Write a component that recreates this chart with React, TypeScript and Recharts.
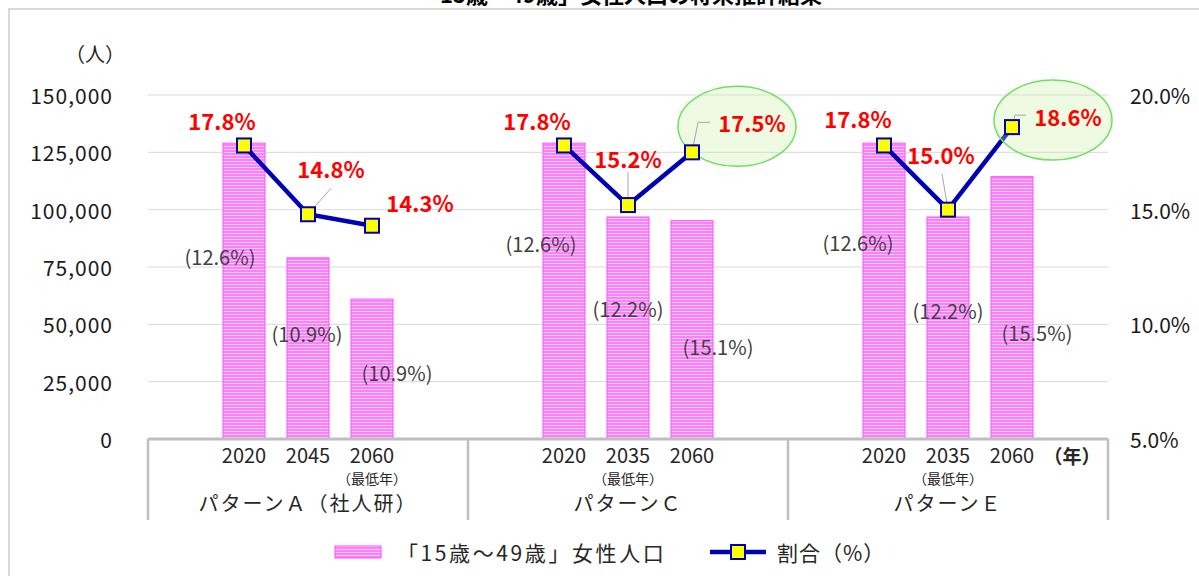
import React from 'react';
import { ComposedChart, Bar, Line, XAxis, YAxis, CartesianGrid, Legend } from 'recharts';

const GROUPS = ['パターンＡ（社人研）', 'パターンＣ', 'パターンＥ'];
const YEARS = [
  ['2020', '2045', '2060'],
  ['2020', '2035', '2060'],
  ['2020', '2035', '2060'],
];
const LOWEST_YEAR = [2, 1, 1];
const POPULATION = [
  [129000, 79000, 61000],
  [129000, 96800, 95200],
  [129000, 96800, 114400],
];
const RATIO = [
  [17.8, 14.8, 14.3],
  [17.8, 15.2, 17.5],
  [17.8, 15.0, 18.6],
];
const SHARE = [
  [12.6, 10.9, 10.9],
  [12.6, 12.2, 15.1],
  [12.6, 12.2, 15.5],
];
const HIGHLIGHTED = [
  [false, false, false],
  [false, false, true],
  [false, false, true],
];
const POP_TICKS = [0, 25000, 50000, 75000, 100000, 125000, 150000];
const RATIO_TICKS = [5, 10, 15, 20];

// label placement (px), relative to the marker / the bar top
const RATIO_LABEL_POS = [
  [[-22, -25], [23, -46], [48, -24]],
  [[-27, -25], [0, -47], [60, -30]],
  [[-26, -27], [-7, -56], [56, -11]],
];
const LEADERS: (number[][] | null)[][] = [
  [null, [[0, 0], [23, -26]], null],
  [null, [[0, 0], [0, -33]], [[0, 0], [6, -30], [18, -30]]],
  [null, [[0, 0], [-6, -36]], [[0, 0], [3, -12], [14, -12]]],
];
const SHARE_LABEL_POS = [
  [[-24, 113], [-1, 76], [25, 73]],
  [[-23, 100], [0, 91], [26, 126]],
  [[-26, 99], [0, 93], [25, 156]],
];

const W = 1199;
const H = 576;
const LEFT_W = 148;
const RIGHT_W = 91;
const TOP = 95;
const XAXIS_H = 81;
const LEGEND_H = 56;
const PLOT_BOTTOM = H - LEGEND_H - XAXIS_H;
const SLOTS = 5;
const FONT = '"Noto Sans CJK JP", "Noto Sans", sans-serif';
const TEXT = '#262626';
const GRAY_LINE = '#bfbfbf';

type Row = { key: string; g: number; i: number; slot: number; year: string; population: number | null; ratio: number | null };

const rows: Row[] = GROUPS.flatMap((_, g) => {
  const out: Row[] = [];
  for (let slot = 0; slot < SLOTS; slot++) {
    const i = slot - 1;
    const has = i >= 0 && i < YEARS[g].length;
    out.push({
      key: `${g}-${slot}`,
      g,
      i: has ? i : -1,
      slot,
      year: has ? YEARS[g][i] : '',
      population: has ? POPULATION[g][i] : null,
      ratio: has ? RATIO[g][i] : null,
    });
  }
  return out;
});

const BAND = (W - LEFT_W - RIGHT_W) / rows.length;

const BarShape = (props: any) => {
  const { x, y, width, height, payload } = props;
  if (!payload || payload.population == null || !height) return <g />;
  const [dx, dy] = SHARE_LABEL_POS[payload.g][payload.i];
  return (
    <g>
      <rect x={x} y={y} width={width} height={height} fill="url(#stripes)" stroke="#ff4dff" strokeWidth={1} />
      <text x={x + width / 2 + dx} y={y + dy} textAnchor="middle" dominantBaseline="central" fontSize={20} fill="#404040">
        ({SHARE[payload.g][payload.i].toFixed(1)}%)
      </text>
    </g>
  );
};

const RatioDot = (props: any) => {
  const { cx, cy, payload, index } = props;
  if (!payload || payload.ratio == null || cx == null || cy == null) return <g key={`d${index}`} />;
  const { g, i } = payload;
  const [lx, ly] = RATIO_LABEL_POS[g][i];
  const leader = LEADERS[g][i];
  return (
    <g key={`d${index}`}>
      {HIGHLIGHTED[g][i] && (
        <ellipse cx={cx + lx - 15} cy={cy + ly + 4} rx={59} ry={40} fill="#c6efa0" fillOpacity={0.3} stroke="#6ee060" strokeWidth={1.5} />
      )}
      {leader && (
        <polyline points={leader.map(([a, b]) => `${cx + a},${cy + b}`).join(' ')} fill="none" stroke="#a6a6a6" strokeWidth={1} />
      )}
      <rect x={cx - 7} y={cy - 7} width={14} height={14} fill="#ffff00" stroke="#0000b0" strokeWidth={2} />
      <text x={cx + lx} y={cy + ly} textAnchor="middle" dominantBaseline="central" fill="#ff0000" fontSize={22} fontWeight="bold">
        {payload.ratio.toFixed(1)}%
      </text>
    </g>
  );
};

const CategoryTick = (props: any) => {
  const { x } = props;
  const index = props.index ?? props.payload?.index ?? 0;
  const row = rows[index];
  if (!row) return <g />;
  const top = PLOT_BOTTOM;
  return (
    <g>
      {row.year && (
        <text x={x} y={top + 15} textAnchor="middle" dominantBaseline="central" fontSize={20} fill={TEXT}>
          {row.year}
        </text>
      )}
      {row.i === LOWEST_YEAR[row.g] && (
        <text x={x} y={top + 39} textAnchor="middle" dominantBaseline="central" fontSize={14} fill={TEXT}>
          （最低年）
        </text>
      )}
      {row.slot === 2 && (
        <text x={x} y={top + 63} textAnchor="middle" dominantBaseline="central" fontSize={20} letterSpacing={2} fill={TEXT}>
          {GROUPS[row.g]}
        </text>
      )}
      {row.slot === 0 && (
        <line x1={x - BAND / 2} x2={x - BAND / 2} y1={top} y2={top + XAXIS_H} stroke={GRAY_LINE} strokeWidth={2.5} />
      )}
      {index === rows.length - 1 && (
        <line x1={x + BAND / 2} x2={x + BAND / 2} y1={top} y2={top + XAXIS_H} stroke={GRAY_LINE} strokeWidth={2.5} />
      )}
    </g>
  );
};

const PopTick = (props: any) => {
  const { y, payload } = props;
  return (
    <text x={LEFT_W - 35} y={y} textAnchor="end" dominantBaseline="central" fontSize={21} letterSpacing={1} fill="#1a1a1a">
      {payload.value.toLocaleString('en-US')}
    </text>
  );
};

const RatioTick = (props: any) => {
  const { y, payload } = props;
  return (
    <text x={W - RIGHT_W + 22} y={y} textAnchor="start" dominantBaseline="central" fontSize={21} fill="#1a1a1a">
      {payload.value.toFixed(1)}%
    </text>
  );
};

const LegendContent = () => (
  <svg width={W} height={LEGEND_H} style={{ display: 'block', fontFamily: FONT }}>
    <rect x={335} y={26} width={46} height={12} fill="url(#stripes)" stroke="#ff4dff" strokeWidth={1} />
    <text x={397} y={32} dominantBaseline="central" fontSize={21} letterSpacing={2.6} fill={TEXT}>
      「15歳～49歳」女性人口
    </text>
    <line x1={710} x2={766} y1={32} y2={32} stroke="#0000b4" strokeWidth={4.5} />
    <rect x={731} y={25} width={14} height={14} fill="#ffff00" stroke="#0000b0" strokeWidth={2} />
    <text x={777} y={32} dominantBaseline="central" fontSize={21} letterSpacing={1} fill={TEXT}>
      割合（%）
    </text>
  </svg>
);

export default function App() {
  return (
    <div style={{ position: 'absolute', left: 0, top: 0, width: W, height: H, overflow: 'hidden', background: '#fff', fontFamily: FONT }}>
      <div style={{ position: 'absolute', left: 8, top: 8, width: W - 8, height: H - 8, borderTop: '2px solid #d9d9d9', borderLeft: '2px solid #d9d9d9', boxSizing: 'border-box' }} />
      <div style={{ position: 'absolute', left: 320, top: -18, width: 600, textAlign: 'center', fontSize: 22, lineHeight: '22px', fontWeight: 'bold', color: '#000' }}>
        「15歳～49歳」女性人口の将来推計結果
      </div>
      <div style={{ position: 'absolute', left: 0, top: 0 }}>
        <ComposedChart width={W} height={H} data={rows} margin={{ top: TOP, right: 0, bottom: 0, left: 0 }}>
          <defs>
            <pattern id="stripes" patternUnits="userSpaceOnUse" width={8} height={3}>
              <rect width={8} height={3} fill="#ff7eff" />
              <rect y={2} width={8} height={1} fill="#ffd0ff" />
            </pattern>
          </defs>
          <CartesianGrid yAxisId="pop" vertical={false} stroke="#d9d9d9" />
          <XAxis
            dataKey="key"
            interval={0}
            height={XAXIS_H}
            tickLine={false}
            axisLine={{ stroke: GRAY_LINE, strokeWidth: 3 }}
            tick={CategoryTick}
            label={(p: any) => (
              <text x={p.viewBox.x + p.viewBox.width - 36} y={p.viewBox.y + 16} textAnchor="middle" dominantBaseline="central" fontSize={19} fontWeight="bold" fill={TEXT}>
                （年）
              </text>
            )}
          />
          <YAxis
            yAxisId="pop"
            width={LEFT_W}
            domain={[0, 150000]}
            ticks={POP_TICKS}
            tickLine={false}
            axisLine={false}
            tick={PopTick}
            label={(p: any) => (
              <text x={p.viewBox.x + 95} y={p.viewBox.y - 42} textAnchor="middle" dominantBaseline="central" fontSize={20} fill={TEXT}>
                （人）
              </text>
            )}
          />
          <YAxis
            yAxisId="ratio"
            orientation="right"
            width={RIGHT_W}
            domain={[5, 20]}
            ticks={RATIO_TICKS}
            tickLine={false}
            axisLine={false}
            tick={RatioTick}
          />
          <Bar yAxisId="pop" dataKey="population" barSize={42} shape={BarShape} isAnimationActive={false} />
          <Line
            yAxisId="ratio"
            type="linear"
            dataKey="ratio"
            stroke="#0000b4"
            strokeWidth={4.5}
            connectNulls={false}
            dot={RatioDot}
            activeDot={false}
            isAnimationActive={false}
          />
          <Legend verticalAlign="bottom" height={LEGEND_H} content={LegendContent} />
        </ComposedChart>
      </div>
    </div>
  );
}
